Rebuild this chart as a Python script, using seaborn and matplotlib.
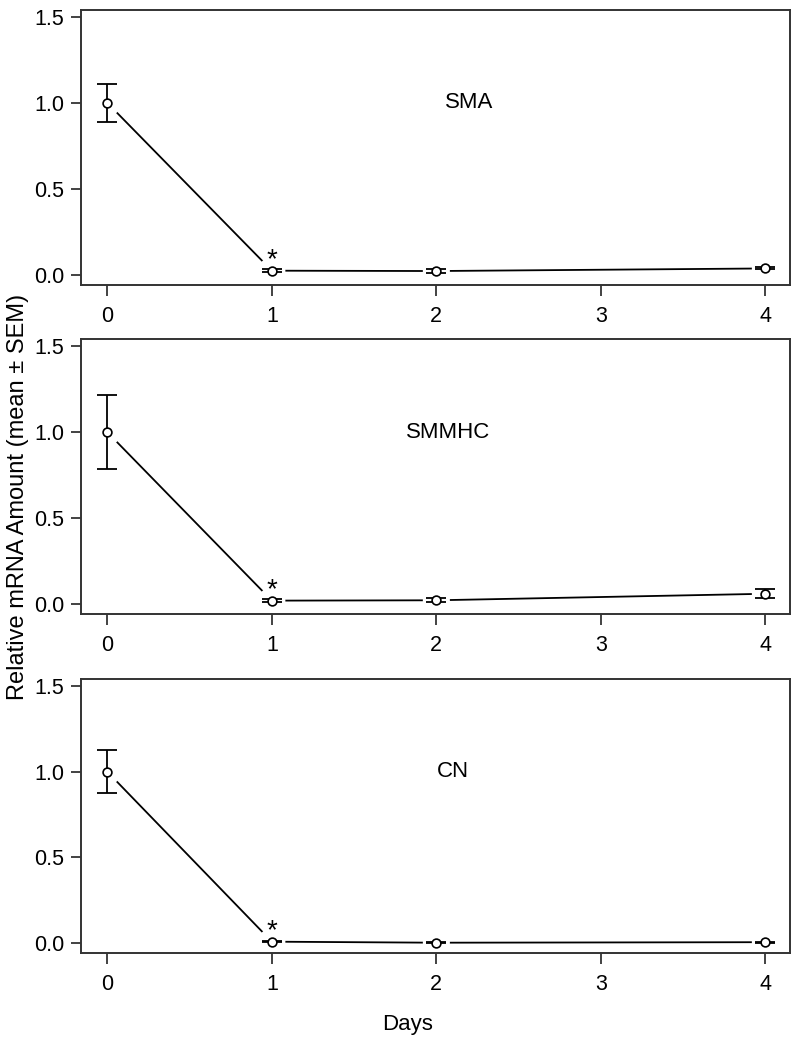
import matplotlib
matplotlib.use("Agg")
import matplotlib.pyplot as plt
import seaborn as sns
import pandas as pd

days = [0, 1, 2, 4]
genes = ["SMA", "SMMHC", "CN"]
sma_mean = [1.0, 0.025, 0.023, 0.038]
sma_sem = [0.11, 0.008, 0.01, 0.006]
smmhc_mean = [1.0, 0.02, 0.022, 0.06]
smmhc_sem = [0.215, 0.008, 0.012, 0.025]
cn_mean = [1.0, 0.008, 0.002, 0.005]
cn_sem = [0.125, 0.003, 0.002, 0.003]
star_day = 1

sns.set_style("ticks")
plt.rcParams['font.family'] = ['Liberation Sans', 'DejaVu Sans']
plt.rcParams['text.color'] = 'black'

fig = plt.figure(figsize=(7.99, 10.5), dpi=100)
boxes = [(0.1014, 0.7286, 0.8874, 0.2619),
         (0.1014, 0.4152, 0.8874, 0.2616),
         (0.1014, 0.0924, 0.8874, 0.2607)]
means = [sma_mean, smmhc_mean, cn_mean]
sems = [sma_sem, smmhc_sem, cn_sem]
label_x = [2.2, 2.07, 2.1]

for box, gene, m, s, lx in zip(boxes, genes, means, sems, label_x):
    ax = fig.add_axes(box)
    df = pd.DataFrame({"day": days, "mean": m, "sem": s})
    sns.lineplot(data=df, x="day", y="mean", ax=ax, color="black",
                 linewidth=1.3, zorder=1)
    # white halo so the line stops short of each point
    sns.scatterplot(data=df, x="day", y="mean", ax=ax, s=380, color="white",
                    edgecolor="none", zorder=2)
    ax.errorbar(df["day"], df["mean"], yerr=df["sem"], fmt="none",
                ecolor="black", elinewidth=1.3, capsize=7, capthick=1.3,
                zorder=3)
    sns.scatterplot(data=df, x="day", y="mean", ax=ax, s=40, marker="o",
                    facecolor="white", edgecolor="black", linewidth=1.2,
                    zorder=4)
    i = days.index(star_day)
    ax.text(star_day, m[i] + 0.02, "*", ha="center", va="baseline",
            fontsize=20)
    ax.text(lx, 1.0, gene, ha="center", va="center", fontsize=16)

    ax.set_xlim(-0.16, 4.15)
    ax.set_ylim(-0.058, 1.54)
    ax.set_xticks([0, 1, 2, 3, 4])
    ax.set_yticks([0.0, 0.5, 1.0, 1.5])
    ax.set_yticklabels(["0.0", "0.5", "1.0", "1.5"])
    ax.set_xlabel("")
    ax.set_ylabel("")
    ax.tick_params(direction="out", width=1.2, colors="#222222",
                   labelsize=15.5, labelcolor="black")
    ax.tick_params(axis="x", length=8, pad=7)
    ax.tick_params(axis="y", length=7, pad=5)
    for sp in ax.spines.values():
        sp.set_visible(True)
        sp.set_linewidth(1.4)
        sp.set_color("#333333")

fig.text(0.022, 0.527, "Relative mRNA Amount (mean \u00b1 SEM)", rotation=90,
         ha="center", va="center", fontsize=17)
fig.text(0.51, 0.024, "Days", ha="center", va="center", fontsize=16)

fig.savefig("out.png", dpi=100, facecolor="white")
